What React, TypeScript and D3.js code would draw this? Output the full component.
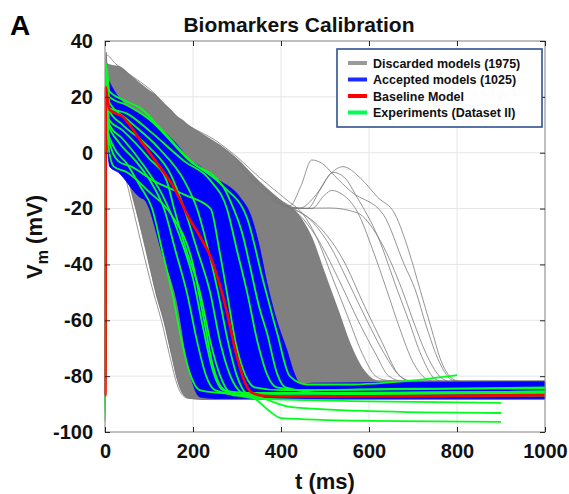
import { area, axisBottom, axisLeft, axisRight, axisTop, curveMonotoneX, line, scaleLinear, select } from "d3";
import { useEffect, useRef } from "react";

type Pt = [number, number];

const xTicks = [0, 200, 400, 600, 800, 1000];
const yTicks = [-100, -80, -60, -40, -20, 0, 20, 40];

const legendLabels = [
  "Discarded models (1975)",
  "Accepted models (1025)",
  "Baseline Model",
  "Experiments (Dataset II)",
];
const legendColors = ["#9a9a9a", "#1a2cff", "#ff0000", "#00ff55"];

// dense band of discarded models (t in ms, V in mV)
const grayT = [2, 5, 15, 34, 57, 80, 100, 114, 132, 150, 165, 175, 190, 220, 260, 300, 350, 400, 440, 470, 500, 530, 560, 590, 620, 650, 680, 1000];
const grayUpper = [36, 32, 31.5, 31, 28, 25, 22.5, 21, 18, 15.5, 13, 12, 10, 7, 3, -2, -10, -17, -22, -30, -43, -56, -69, -78, -81.5, -81.5, -81.5, -81.5];
const grayLower = [30, 21, 13, 1, -13, -27, -40, -50, -60, -72, -82, -86, -88, -88.5, -88.5, -88.5, -88.5, -88.5, -88.5, -88.5, -88.5, -88.5, -88.5, -88.5, -88.5, -88.5, -88.5, -88.5];

// band of accepted models
const blueT = [2, 11, 30, 80, 91, 130, 163, 193, 216, 250, 307, 330, 350, 368, 390, 414, 430, 445, 470, 1000];
const blueUpper = [28, 25, 20, 14, 13, 8, 3, -2.6, -5, -9, -16, -22, -33, -46.6, -60, -71, -79, -83, -82.5, -82];
const blueLower = [12, -5, -7, -16, -17, -36, -52.7, -79, -87.5, -88, -88, -88, -88, -88, -88, -88, -88, -88, -88, -88];

// individual discarded traces at the edges of the band
const grayTraces: Pt[][] = [
  [[0, -88], [1, -88], [3, 36], [5, 21], [30, 2], [53, -13], [110, -50], [128, -60], [146, -72], [162, -82], [172, -86], [190, -88], [260, -88.3]],
  [[0, -87], [1, -87], [3, 34], [6, 22], [40, 0], [62, -14], [118, -51], [136, -61], [152, -73], [166, -82], [178, -86.5], [200, -88]],
  [[0, -86], [1, -86], [3, 35], [23, 32], [100, 23], [178, 11], [255, 4], [300, -1.5], [352, -9], [414, -17], [450, -22], [480, -30], [515, -44], [550, -58], [585, -72], [615, -80], [640, -81.5], [700, -82]],
  [[300, -3], [350, -12], [400, -18], [440, -22], [480, -30], [530, -45], [575, -60], [615, -72], [645, -80], [680, -82]],
  [[300, -4], [350, -12], [410, -19], [460, -23], [510, -33], [555, -47], [595, -60], [635, -72], [670, -80], [700, -82]],
  [[330, -8], [380, -15], [430, -20], [490, -27], [540, -38], [590, -55], [630, -68], [665, -79], [690, -82]],
  [[380, -17], [440, -20], [480, -15], [510, -8], [541, -5], [580, -9], [620, -16], [659, -22], [690, -35], [716, -49], [740, -62], [765, -75], [790, -81], [810, -82]],
  [[380, -17], [420, -19], [445, -12], [470, -2.6], [495, -4], [520, -8], [560, -14], [632, -22], [680, -40], [705, -49], [730, -62], [760, -75], [790, -81.5], [810, -82]],
  [[400, -19], [460, -20], [490, -13], [518, -7], [545, -9], [573, -16], [620, -30], [664, -49], [690, -60], [720, -73], [750, -81], [770, -82]],
  [[400, -19], [470, -20], [500, -15], [515, -13.5], [540, -15], [573, -21], [609, -35], [640, -49], [670, -63], [700, -75], [730, -81], [750, -82]],
  [[420, -20], [511, -19.8], [573, -21.5], [620, -30], [675, -49], [700, -60], [730, -72], [760, -80], [780, -82]],
];

// experimental recordings
const greenTraces: Pt[][] = [
  [[0, -87], [1, -87], [2, 30], [6, 8], [20, 2], [50, -4], [80, -12], [107, -20], [130, -35], [155, -52], [175, -68], [193, -79], [215, -85], [260, -86], [400, -87], [600, -86.5], [1000, -86]],
  [[0, -88], [1, -88], [2, 28], [8, 10], [30, 4], [70, -3], [110, -12], [134, -20], [160, -35], [186, -50], [210, -68], [230, -80], [250, -85], [300, -86.5], [1000, -85.5]],
  [[0, -90], [1, -90], [2, 25], [8, 12], [40, 8], [100, -2], [140, -10], [157, -20], [185, -35], [216, -50], [240, -68], [262, -80], [285, -86], [350, -88], [600, -89], [900, -89.6]],
  [[0, -96], [1, -96], [2, 28], [10, 15], [40, 10], [100, 2], [150, -8], [180, -20], [210, -35], [239, -50], [262, -68], [285, -80], [310, -86], [340, -88], [370, -92], [400, -95], [600, -96], [900, -96.4]],
  [[0, -93], [1, -93], [2, 26], [10, 18], [50, 12], [120, 2], [180, -10], [209, -20], [235, -35], [257, -50], [280, -68], [300, -80], [320, -86], [360, -88], [420, -91], [600, -92.5], [900, -93.2]],
  [[0, -86], [1, -86], [2, 29], [8, 5], [30, -3], [60, -5], [110, -10], [180, -15], [240, -20], [260, -35], [277, -50], [297, -68], [320, -80], [340, -84], [400, -85], [1000, -84]],
  [[0, -85], [1, -85], [2, 30], [10, 16], [50, 14], [100, 8], [180, -3], [240, -10], [277, -20], [300, -35], [323, -50], [347, -68], [370, -80], [390, -84], [450, -85], [700, -84.5], [1000, -84.5]],
  [[0, -87], [1, -87], [2, 31], [10, 20], [50, 17], [100, 12], [193, -3], [268, -12], [284, -17], [314, -30], [330, -41], [350, -55], [368, -64.5], [391, -79], [410, -84], [500, -86], [1000, -85.5]],
  [[0, -84], [1, -84], [2, 32], [10, 22], [40, 19], [80, 16], [130, 8], [193, -2.6], [268, -12], [322, -23], [359, -45.6], [391, -64.5], [420, -80], [459, -83], [550, -83], [700, -81.5], [800, -79.6]],
  [[0, -87], [1, -87], [2, 27], [8, 2], [20, -5], [50, -7], [100, -14], [150, -22], [200, -40], [225, -60], [245, -76], [265, -84], [300, -87], [1000, -87]],
  [[0, -86], [1, -86], [2, 28], [10, 10], [40, 5], [90, -5], [130, -15], [170, -30], [200, -45], [222, -62], [245, -78], [268, -85], [320, -86], [1000, -86]],
];

// baseline model
const baseline: Pt[] = [[0, -87], [1, -87], [2, 23.5], [5, 20], [11, 15.3], [41, 12.8], [80, 4.5], [118, -3.7], [155, -12], [193, -24], [216, -30], [239, -37], [260, -47], [277, -57], [295, -70], [307, -77], [320, -83], [335, -86], [359, -87], [400, -87.3], [600, -87.2], [800, -87], [1000, -86.8]];

const W = 569;
const H = 494;
const left = 105;
const right = 545;
const top = 41;
const bottom = 432;

export default function App() {
  const gxb = useRef<SVGGElement>(null);
  const gxt = useRef<SVGGElement>(null);
  const gyl = useRef<SVGGElement>(null);
  const gyr = useRef<SVGGElement>(null);

  const x = scaleLinear([0, 1000], [left, right]);
  const y = scaleLinear([-100, 40], [bottom, top]);

  const trace = line<Pt>((d) => x(d[0]), (d) => y(d[1])).curve(curveMonotoneX);
  const band = (ts: number[], lo: number[], hi: number[]) =>
    area<number>((t) => x(t), (_, i) => y(lo[i]), (_, i) => y(hi[i])).curve(curveMonotoneX)(ts) ?? "";

  useEffect(() => {
    const font = (g: any) => {
      g.select(".domain").remove();
      g.selectAll("line").attr("stroke", "#262626");
      g.selectAll("text")
        .attr("font-family", "Liberation Sans, Arial, sans-serif")
        .attr("font-weight", "bold")
        .attr("font-size", 20)
        .attr("fill", "#111");
    };
    select(gxb.current!).call(axisBottom(x).tickValues(xTicks).tickSize(-5).tickPadding(12).tickFormat((d) => String(d)) as any).call(font);
    select(gxt.current!).call(axisTop(x).tickValues(xTicks).tickSize(-5).tickFormat(() => "") as any).call(font);
    select(gyl.current!).call(axisLeft(y).tickValues(yTicks).tickSize(-5).tickPadding(12).tickFormat((d) => String(d)) as any).call(font);
    select(gyr.current!).call(axisRight(y).tickValues(yTicks).tickSize(-5).tickFormat(() => "") as any).call(font);
  });

  return (
    <svg width={W} height={H} style={{ position: "absolute", left: 0, top: 0, background: "#fff" }}>
      <rect width={W} height={H} fill="#fff" />
      {/* grid */}
      <g stroke="#e6e6e6" strokeWidth={1}>
        {xTicks.map((t) => (
          <line key={"gx" + t} x1={x(t)} x2={x(t)} y1={top} y2={bottom} />
        ))}
        {yTicks.map((v) => (
          <line key={"gy" + v} x1={left} x2={right} y1={y(v)} y2={y(v)} />
        ))}
      </g>

      <path d={band(grayT, grayLower, grayUpper)} fill="#808080" />
      <g fill="none" stroke="#7a7a7a" strokeWidth={0.8}>
        {grayTraces.map((d, i) => (
          <path key={"g" + i} d={trace(d) ?? ""} />
        ))}
      </g>

      <path d={band(blueT, blueLower, blueUpper)} fill="#0000ff" stroke="#0000ff" strokeWidth={0.8} />

      <g fill="none" stroke="#00ff1e" strokeWidth={1.8} strokeLinejoin="round">
        {greenTraces.map((d, i) => (
          <path key={"e" + i} d={trace(d) ?? ""} />
        ))}
      </g>

      <path d={trace(baseline) ?? ""} fill="none" stroke="#ff0000" strokeWidth={2.6} />

      {/* box */}
      <rect x={left} y={top} width={right - left} height={bottom - top} fill="none" stroke="#8c8c8c" strokeWidth={1} />
      <g ref={gxb} transform={`translate(0,${bottom})`} />
      <g ref={gxt} transform={`translate(0,${top})`} />
      <g ref={gyl} transform={`translate(${left},0)`} />
      <g ref={gyr} transform={`translate(${right},0)`} />

      {/* legend */}
      <g>
        <rect x={337} y={49} width={205} height={78} fill="#fff" stroke="#2f528f" strokeWidth={1.6} />
        {legendLabels.map((s, i) => (
          <g key={s} transform={`translate(0,${63 + i * 16.5})`}>
            <line x1={348} x2={367} y1={0} y2={0} stroke={legendColors[i]} strokeWidth={4} />
            <text x={373} y={4.5} fontFamily="Liberation Sans, Arial, sans-serif" fontWeight="bold" fontSize={12.5} fill="#111">
              {s}
            </text>
          </g>
        ))}
      </g>

      {/* titles */}
      <text x={10} y={35} fontFamily="Liberation Sans, Arial, sans-serif" fontWeight="bold" fontSize={28} fill="#000">
        A
      </text>
      <text x={299} y={32} textAnchor="middle" fontFamily="Liberation Sans, Arial, sans-serif" fontWeight="bold" fontSize={21} fill="#111">
        Biomarkers Calibration
      </text>
      <text x={325} y={489} textAnchor="middle" fontFamily="Liberation Sans, Arial, sans-serif" fontWeight="bold" fontSize={22} fill="#111">
        t (ms)
      </text>
      <text transform="translate(42,237) rotate(-90)" textAnchor="middle" fontFamily="Liberation Sans, Arial, sans-serif" fontWeight="bold" fontSize={22} fill="#111">
        V<tspan fontSize={16} dy={6}>m</tspan>
        <tspan dy={-6}> (mV)</tspan>
      </text>
    </svg>
  );
}
